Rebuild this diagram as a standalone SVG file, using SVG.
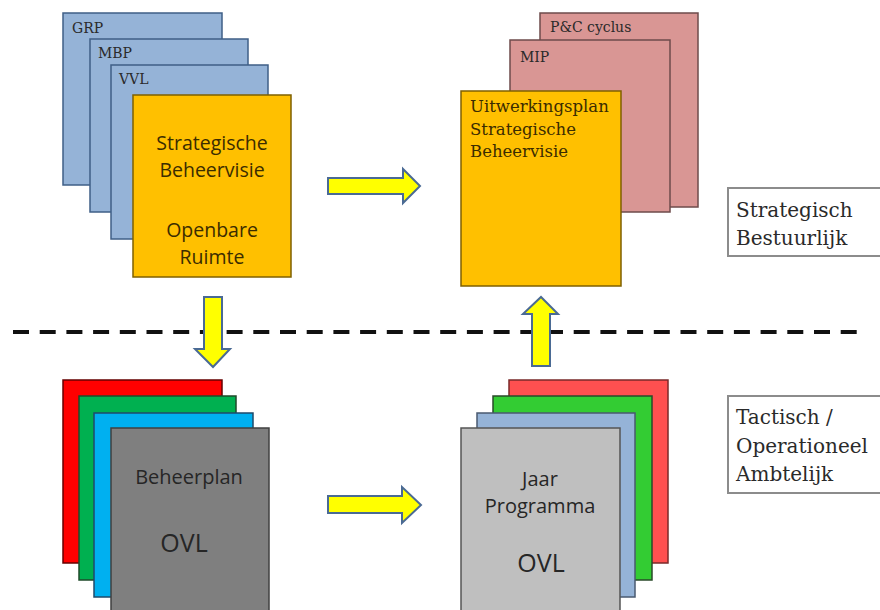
<svg xmlns="http://www.w3.org/2000/svg" width="880" height="610" viewBox="0 0 880 610">
<style>
.card{stroke-width:1.5}
.blue{fill:#95b3d7;stroke:#3f5f87}
.pink{fill:#d99694;stroke:#6e4b4b}
.orange{fill:#ffc000;stroke:#7f6000}
.serif{font-family:"DejaVu Serif","Liberation Serif",serif;fill:#2a2a2a}
.sans{font-family:"Open Sans","Liberation Sans",sans-serif;fill:#262626}
.brown{fill:#3b2c00}
.arrow{fill:#ffff00;stroke:#4a6a94;stroke-width:2;stroke-linejoin:miter}
.lbl{fill:#fff;stroke:#8c8c8c;stroke-width:2}
</style>
<rect width="880" height="610" fill="#fff"/>

<g id="grp"><rect class="card blue" x="63" y="13" width="159" height="172"/><text class="serif" x="72" y="33" font-size="14" fill="#2e3e58">GRP</text></g>
<g id="mbp"><rect class="card blue" x="90" y="39" width="158" height="173"/><text class="serif" x="98" y="58" font-size="14">MBP</text></g>
<g id="vvl"><rect class="card blue" x="111" y="65" width="157" height="174"/><text class="serif" x="119" y="84" font-size="14">VVL</text></g>
<g id="strategische-beheervisie"><rect class="card orange" x="133" y="95" width="158" height="182"/>
<text class="sans brown" font-size="19.5" text-anchor="middle"><tspan x="212" y="150">Strategische</tspan><tspan x="212" y="177">Beheervisie</tspan><tspan x="212" y="237">Openbare</tspan><tspan x="212" y="264">Ruimte</tspan></text></g>

<g id="pc-cyclus"><rect class="card pink" x="540" y="13" width="158" height="194"/><text class="serif" x="550" y="32" font-size="14">P&amp;C cyclus</text></g>
<g id="mip"><rect class="card pink" x="510" y="40" width="160" height="172"/><text class="serif" x="520" y="62" font-size="14">MIP</text></g>
<g id="uitwerkingsplan"><rect class="card orange" x="461" y="91" width="160" height="195"/>
<text class="serif brown" font-size="16.5"><tspan x="470" y="112">Uitwerkingsplan</tspan><tspan x="470" y="135">Strategische</tspan><tspan x="470" y="157">Beheervisie</tspan></text></g>

<g id="beheerplan-red"><rect class="card" x="63" y="380" width="159" height="183" fill="#ff0000" stroke="#600"/></g>
<g id="beheerplan-green"><rect class="card" x="79" y="396" width="157" height="184" fill="#00b050" stroke="#1f4a2a"/></g>
<g id="beheerplan-blue"><rect class="card" x="94" y="413" width="159" height="184" fill="#00b0f0" stroke="#1f4a6a"/></g>
<g id="beheerplan-ovl"><rect class="card" x="111" y="428" width="158" height="190" fill="#7f7f7f" stroke="#404040"/>
<text class="sans" font-size="20" text-anchor="middle" x="189" y="484">Beheerplan</text>
<text class="sans" font-size="25" text-anchor="middle" x="184" y="552">OVL</text></g>

<g id="jaar-red"><rect class="card" x="509" y="380" width="159" height="183" fill="#ff5050" stroke="#7a2a2a"/></g>
<g id="jaar-green"><rect class="card" x="493" y="396" width="159" height="184" fill="#33cc33" stroke="#2a4a2a"/></g>
<g id="jaar-blue"><rect class="card" x="477" y="413" width="158" height="184" fill="#95b3d7" stroke="#4a5a70"/></g>
<g id="jaarprogramma-ovl"><rect class="card" x="461" y="428" width="159" height="190" fill="#bfbfbf" stroke="#555"/>
<text class="sans" font-size="20" text-anchor="middle"><tspan x="540" y="486">Jaar</tspan><tspan x="540" y="513">Programma</tspan></text>
<text class="sans" font-size="25" text-anchor="middle" x="541" y="572">OVL</text></g>

<g id="label-strategisch"><rect class="lbl" x="728" y="188" width="160" height="68"/>
<text class="serif" font-size="20"><tspan x="736" y="217">Strategisch</tspan><tspan x="736" y="245">Bestuurlijk</tspan></text></g>
<g id="label-tactisch"><rect class="lbl" x="728" y="396" width="160" height="97"/>
<text class="serif" font-size="20"><tspan x="736" y="424">Tactisch /</tspan><tspan x="736" y="453">Operationeel</tspan><tspan x="736" y="481">Ambtelijk</tspan></text></g>

<line x1="13" y1="332" x2="866" y2="332" stroke="#111" stroke-width="4" stroke-dasharray="16 10.7"/>

<g id="connectors">
<polygon class="arrow" points="328,178 403,178 403,169 420,186 403,203 403,194 328,194"/>
<polygon class="arrow" points="204,297 222,297 222,349 230,349 213,367 195,349 204,349"/>
<polygon class="arrow" points="532,366 550,366 550,314 558,314 541,297 523,314 532,314"/>
<polygon class="arrow" points="328,496 402,496 402,487 421,505 402,523 402,513 328,513"/>
</g>
</svg>
